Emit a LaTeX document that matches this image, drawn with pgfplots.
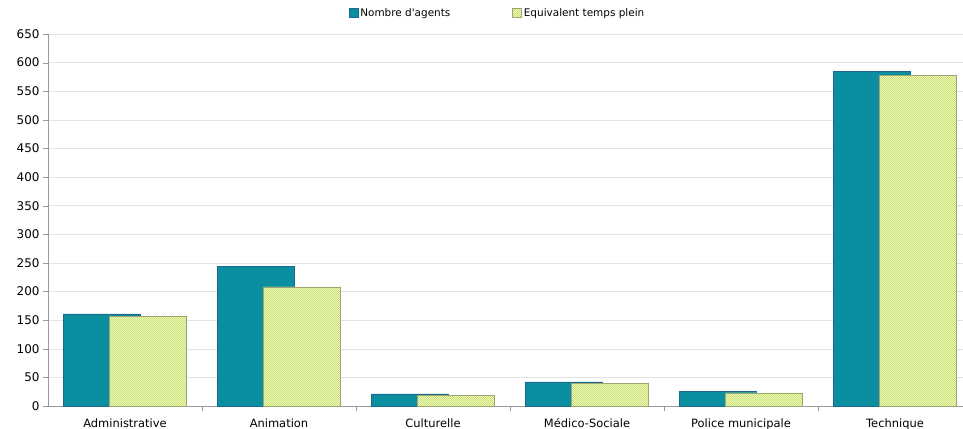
\documentclass[border=0pt]{standalone}
\usepackage{pgfplots}
\pgfplotsset{compat=1.18}
\usepackage{fontspec}
\setmainfont{DejaVu Sans}[Ligatures=TeXOff]
\usetikzlibrary{patterns}
\pgfdeclarepatternformonly{fcheck}{\pgfpointorigin}{\pgfqpoint{2.4pt}{2.4pt}}{\pgfqpoint{2.4pt}{2.4pt}}{%
  \pgfpathrectangle{\pgfpointorigin}{\pgfqpoint{1.2pt}{1.2pt}}%
  \pgfpathrectangle{\pgfqpoint{1.2pt}{1.2pt}}{\pgfqpoint{1.2pt}{1.2pt}}%
  \pgfusepath{fill}}
\definecolor{teal1}{HTML}{0B8FA0}
\definecolor{tealedge}{HTML}{1B6A8E}
\definecolor{pgreen}{HTML}{F8FCD6}
\definecolor{pdots}{HTML}{C6E26A}
\definecolor{gedge}{HTML}{A0A470}
\begin{document}
\begin{tikzpicture}[font=\fontsize{11.5}{13}\selectfont]
\useasboundingbox (-48bp,-23bp) rectangle (915bp,406bp);
\begin{axis}[
  scale only axis, width=924bp, height=372bp,
  xmin=-0.5, xmax=5.5, ymin=0, ymax=650,
  ytick={0,50,...,650},
  xtick={0,...,5},
  xticklabels={Administrative,Animation,Culturelle,Médico-Sociale,Police municipale,Technique},
  major x tick style={draw=none},
  minor xtick={0.5,1.5,2.5,3.5,4.5},
  minor x tick style={gray!80},
  minor tick length=5bp, major tick length=5bp,
  tick align=outside,
  axis x line*=bottom, axis y line*=left,
  axis line style={gray!80, line width=0.8pt},
  ytick style={gray!80},
  ymajorgrids, grid style={gray!22},
  /pgf/number format/assume math mode=true,
  xticklabel style={font=\fontsize{11.5}{13}\selectfont, yshift=-4bp},
  yticklabel style={font=\fontsize{12}{13}\selectfont},
  legend style={at={(0.4865,1)}, anchor=center, yshift=21bp, draw=none, fill=none,
    legend columns=2, font=\fontsize{10.5}{12}\selectfont,
    /tikz/every even column/.append style={column sep=60bp}},
  legend image code/.code={\draw[#1] (0bp,-4.5bp) rectangle (9bp,4.5bp);},
  legend cell align=left,
]
\addplot[ybar, bar width=0.5, bar shift=0pt, fill=teal1, draw=tealedge, line width=0.6pt]
  coordinates {(-0.15,161) (0.85,244) (1.85,21) (2.85,42) (3.85,25) (4.85,585)};
\addlegendentry{Nombre d'agents}
\addplot[ybar, bar width=0.5, bar shift=0pt, fill=pgreen, draw=gedge, line width=0.5pt,
  postaction={pattern=fcheck, pattern color=pdots}]
  coordinates {(0.15,156) (1.15,208) (2.15,18) (3.15,40) (4.15,23) (5.15,578)};
\addlegendentry{Equivalent temps plein}
\end{axis}
\end{tikzpicture}
\end{document}
